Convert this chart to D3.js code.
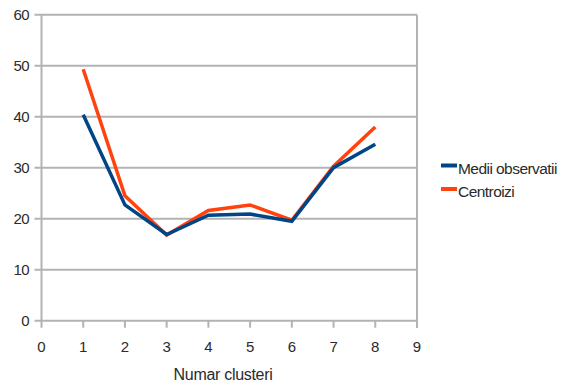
<!DOCTYPE html>
<html>
<head>
<meta charset="utf-8">
<script src="https://cdn.jsdelivr.net/npm/d3@7"></script>
<style>
  body { margin: 0; background: #fff; }
  text { font-family: "Liberation Sans", Arial, sans-serif; fill: #2a2a2a; }
</style>
</head>
<body>
<svg id="chart" width="561" height="387"></svg>
<script>
// chart data
const clusters = [1, 2, 3, 4, 5, 6, 7, 8];
const mediiObservatii = [40.4, 22.7, 16.9, 20.7, 20.9, 19.5, 30.0, 34.6];
const centroizi = [49.3, 24.5, 16.8, 21.6, 22.7, 19.7, 30.3, 38.0];
const seriesNames = ["Medii observatii", "Centroizi"];
const seriesColors = ["#004586", "#ff420e"];
const xTicks = [0, 1, 2, 3, 4, 5, 6, 7, 8, 9];
const yTicks = [0, 10, 20, 30, 40, 50, 60];

const margin = { left: 41.5, right: 144, top: 14.7, bottom: 66.3 };
const W = 561, H = 387;

const x = d3.scaleLinear().domain([0, 9]).range([margin.left, W - margin.right]);
const y = d3.scaleLinear().domain([0, 60]).range([H - margin.bottom, margin.top]);

const svg = d3.select("#chart");
const grid = "#b3b3b3";

// horizontal grid lines (these also extend left as tick marks)
svg.append("g")
  .selectAll("line")
  .data(yTicks)
  .join("line")
  .attr("x1", x(0) - 7)
  .attr("x2", x(9))
  .attr("y1", d => y(d))
  .attr("y2", d => y(d))
  .attr("stroke", grid)
  .attr("stroke-width", 2);

// y axis + right border
svg.append("line")
  .attr("x1", x(0)).attr("x2", x(0))
  .attr("y1", y(60)).attr("y2", y(0))
  .attr("stroke", grid).attr("stroke-width", 2);
svg.append("line")
  .attr("x1", x(9)).attr("x2", x(9))
  .attr("y1", y(60)).attr("y2", y(0) + 7)
  .attr("stroke", grid).attr("stroke-width", 2);

// x tick marks
svg.append("g")
  .selectAll("line")
  .data(xTicks)
  .join("line")
  .attr("x1", d => x(d))
  .attr("x2", d => x(d))
  .attr("y1", y(0))
  .attr("y2", y(0) + 7)
  .attr("stroke", grid)
  .attr("stroke-width", 2);

// tick labels
svg.append("g")
  .selectAll("text")
  .data(yTicks)
  .join("text")
  .attr("x", x(0) - 12.5)
  .attr("y", d => y(d))
  .attr("dy", "0.36em")
  .attr("text-anchor", "end")
  .attr("font-size", 15)
  .attr("letter-spacing", -0.6)
  .text(d => d);

svg.append("g")
  .selectAll("text")
  .data(xTicks)
  .join("text")
  .attr("x", d => x(d))
  .attr("y", y(0) + 31)
  .attr("text-anchor", "middle")
  .attr("font-size", 15)
  .text(d => d);

svg.append("text")
  .attr("x", 223)
  .attr("y", 380)
  .attr("text-anchor", "middle")
  .attr("font-size", 16)
  .attr("letter-spacing", -0.3)
  .text("Numar clusteri");

// series lines
const line = d3.line()
  .x((d, i) => x(clusters[i]))
  .y(d => y(d));

// orange first, blue drawn on top like the reference
[centroizi, mediiObservatii].forEach((vals, k) => {
  svg.append("path")
    .datum(vals)
    .attr("d", line)
    .attr("fill", "none")
    .attr("stroke", seriesColors[1 - k])
    .attr("stroke-width", 3.5);
});

// legend
const legend = svg.append("g").attr("transform", "translate(441,165.5)");
seriesNames.forEach((name, k) => {
  const g = legend.append("g").attr("transform", `translate(0,${k * 23.5})`);
  g.append("line")
    .attr("x1", 0).attr("x2", 16)
    .attr("stroke", seriesColors[k])
    .attr("stroke-width", 4);
  g.append("text")
    .attr("x", 17)
    .attr("y", 3)
    .attr("dy", "0.35em")
    .attr("font-size", 15.5)
    .attr("letter-spacing", -0.55)
    .text(name);
});
</script>
</body>
</html>
